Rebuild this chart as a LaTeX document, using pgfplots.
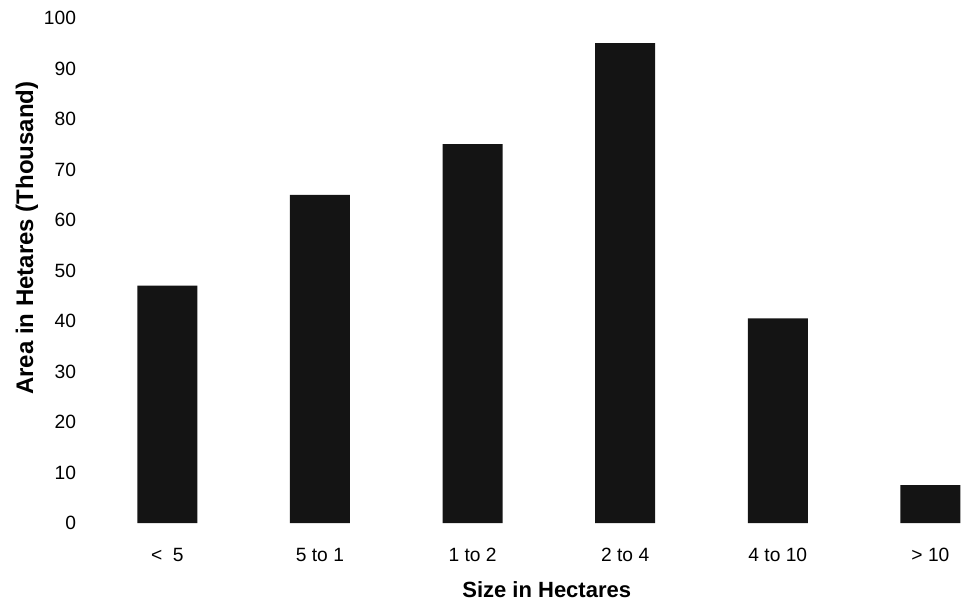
\documentclass[border=0pt]{standalone}
\usepackage{pgfplots}
\pgfplotsset{compat=1.18}
\usepackage{fontspec}
\setmainfont{Liberation Sans}
\begin{document}
\begin{tikzpicture}
\begin{axis}[
  at={(0,0)}, anchor=south west,
  scale only axis,
  width=436.5pt, height=252.5pt,
  ymin=0, ymax=100,
  xmin=-0.5, xmax=5.22,
  ytick={0,10,...,100},
  xtick={0,1,2,3,4,5},
  xticklabels={{<\ \ 5},{5 to 1},{1 to 2},{2 to 4},{4 to 10},{> 10}},
  axis line style={draw=none},
  major tick length=0pt,
  /pgf/number format/assume math mode=true,
  tick label style={font=\fontsize{9.6}{11}\selectfont},
  yticklabel style={xshift=-4pt},
  xticklabel style={yshift=-9pt},
  xlabel={\textbf{Size in Hectares}},
  ylabel={\textbf{Area in Hetares (Thousand)}},
  xlabel style={font=\fontsize{11}{13}\selectfont, at={(axis description cs:0.522,0)}, anchor=center, yshift=-33.5pt},
  ylabel style={font=\fontsize{12}{14}\selectfont, at={(axis description cs:0,0.564)}, anchor=center, yshift=32pt},
  ybar, bar width=30pt,
]
\addplot[fill=black!92, draw=none] coordinates {(0,47) (1,65) (2,75) (3,95) (4,40.5) (5,7.5)};
\end{axis}
\pgfresetboundingbox
\path (-45.5pt,-44pt) rectangle (436.5pt,261.5pt);
\end{tikzpicture}
\end{document}
